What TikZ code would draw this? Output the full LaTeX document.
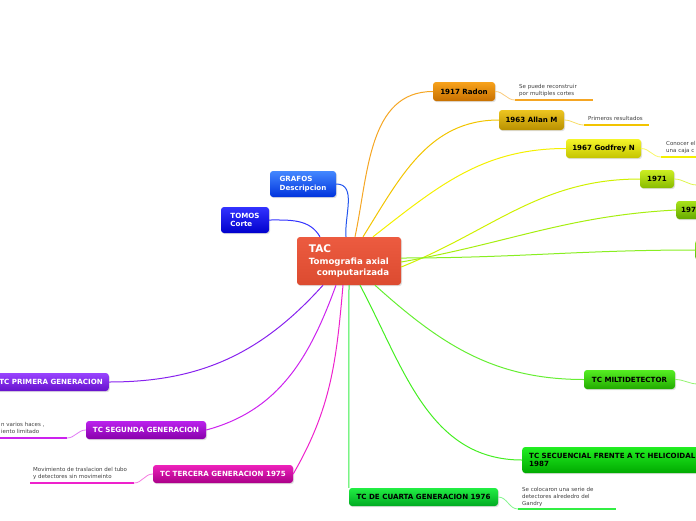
\documentclass[tikz,border=0pt]{standalone}
\usepackage{fontspec}
\setmainfont{DejaVu Sans}
\usetikzlibrary{shadows}
\definecolor{radL}{HTML}{F5A623}
\definecolor{allL}{HTML}{F2C400}
\definecolor{godL}{HTML}{F4F000}
\definecolor{s71L}{HTML}{D0F000}
\definecolor{s72L}{HTML}{A6EE10}
\definecolor{edgL}{HTML}{88EE22}
\definecolor{milL}{HTML}{66EE33}
\definecolor{secL}{HTML}{44EE22}
\definecolor{cuaL}{HTML}{33EE44}
\definecolor{terL}{HTML}{EE22CC}
\definecolor{segL}{HTML}{CC22EE}
\definecolor{priL}{HTML}{8822EE}
\definecolor{tomL}{HTML}{3333FF}
\definecolor{graL}{HTML}{2255EE}

\begin{document}
\begin{tikzpicture}[x=1pt, y=-1pt,
  box/.style={rounded corners=3pt, inner xsep=6pt, inner ysep=2pt, align=left,
    font=\fontsize{7.1}{8.6}\selectfont\bfseries,
    drop shadow={shadow xshift=1pt, shadow yshift=-1.2pt, opacity=0.25}},
  tint/.code 2 args={\definecolor{tintT}{HTML}{#1}\definecolor{tintB}{HTML}{#2}%
    \pgfkeysalso{box, top color=tintT, bottom color=tintB}},
  note/.style={font=\fontsize{5.5}{7}\selectfont, text=black!75, align=left, inner sep=1pt},
  limb/.style={line width=1pt},
  twig/.style={line width=0.8pt},
  uline/.style={line width=2.2pt},
]
\useasboundingbox (0,0) rectangle (696,520);
\clip (0,0) rectangle (696,520);

\node[tint={EC5B40}{DC4B30}, text=white, minimum width=104, minimum height=48, inner xsep=4pt,
  font=\fontsize{8.6}{11.5}\selectfont\bfseries] (tac) at (349,261)
  {{\fontsize{10.5}{11}\selectfont TAC}\\Tomografia axial\\\hspace*{8pt}computarizada};

\node[tint={4488FF}{0033DD}, text=white, minimum width=66, minimum height=26] (grafos) at (303,184) {GRAFOS\\Descripcion};
\node[tint={3333FF}{0000CC}, text=white, minimum width=48, minimum height=26] (tomos) at (245,220) {TOMOS\\Corte};

\node[tint={F7A21B}{C87000}, minimum width=62, minimum height=19] (radon) at (464,91.5) {1917 Radon};
\node[tint={EDC520}{B89000}, minimum width=65, minimum height=20] (allan) at (531.5,120) {1963 Allan M};
\node[tint={F5F52A}{C4C400}, minimum width=75, minimum height=19] (godfrey) at (603.5,148.5) {1967 Godfrey N};
\node[tint={CCEE22}{88BB00}, minimum width=34, minimum height=18] (s71) at (657,179) {1971};
\node[tint={A8E21A}{66AA00}, minimum height=18, inner xsep=5pt, anchor=west] (s72) at (676,210) {197};
\node[tint={88EE22}{55BB00}, minimum width=30, minimum height=20, anchor=west] (edge) at (695,250) {};
\node[tint={55EE22}{22AA00}, minimum width=91, minimum height=19] (milti) at (629.5,379.5) {TC MILTIDETECTOR};
\node[tint={22EE22}{00AA00}, minimum height=26, inner xsep=7pt, anchor=west] (secu) at (522,460)
  {TC SECUENCIAL FRENTE A TC HELICOIDAL\\1987};
\node[tint={22EE44}{00AA22}, minimum width=149, minimum height=18] (cuarta) at (423.5,497) {TC DE CUARTA GENERACION 1976};
\node[tint={EE22BB}{AA0088}, text=white, minimum width=140, minimum height=18] (tercera) at (223,474) {TC TERCERA GENERACION 1975};
\node[tint={BB22EE}{8800AA}, text=white, minimum width=120, minimum height=18] (segunda) at (146,430) {TC SEGUNDA GENERACION};
\node[tint={9944FF}{6611CC}, text=white, minimum height=18, anchor=east] (primera) at (109,382) {TC PRIMERA GENERACION};

\draw[limb, graL] (grafos.east) to[out=0, in=95] ([xshift=-3pt]tac.north);
\draw[limb, tomL] (tomos.east) to[out=0, in=120] ([xshift=-29pt]tac.north);
\draw[limb, radL] ([xshift=6pt]tac.north) to[out=78, in=180] (radon.west);
\draw[limb, allL] ([xshift=14pt]tac.north) to[out=58, in=180] (allan.west);
\draw[limb, godL] ([xshift=24pt]tac.north) to[out=38, in=180] (godfrey.west);
\draw[limb, s71L] ([yshift=-6pt]tac.east) to[out=22, in=180] (s71.west);
\draw[limb, s72L] ([yshift=-1pt]tac.east) to[out=10, in=183] (s72.west);
\draw[limb, edgL] ([yshift=3pt]tac.east) to[out=0, in=180] (edge.west);
\draw[limb, milL] ([xshift=26pt]tac.south) to[out=-42, in=180] (milti.west);
\draw[limb, secL] ([xshift=11pt]tac.south) to[out=-62, in=180] (secu.west);
\draw[limb, cuaL] (tac.south) -- (cuarta.north west);
\draw[limb, terL] ([xshift=-6pt]tac.south) to[out=-95, in=60] (tercera.east);
\draw[limb, segL] ([xshift=-13pt]tac.south) to[out=-110, in=15] (segunda.east);
\draw[limb, priL] ([xshift=-26pt]tac.south) to[out=-132, in=0] (primera.east);

\node[note, anchor=north west] (nradon) at (518,83) {Se puede reconstruir\\por multiples cortes};
\coordinate (ra) at (515,100);
\coordinate (rb) at (593,100);
\draw[uline, radL] (ra) -- (rb);
\draw[twig, radL!60] (radon.east) to[out=0, in=180] (ra);

\node[note, anchor=north west] (nallan) at (587,115) {Primeros resultados};
\coordinate (aa) at (584,125);
\coordinate (ab) at (649,125);
\draw[uline, allL] (aa) -- (ab);
\draw[twig, allL!60] (allan.east) to[out=0, in=180] (aa);

\node[note, anchor=north west] (ngod) at (665,140) {Conocer el\\una caja c};
\coordinate (ga) at (661,157);
\coordinate (gb) at (700,157);
\draw[uline, godL] (ga) -- (gb);
\draw[twig, godL!60] (godfrey.east) to[out=0, in=180] (ga);

\coordinate (sa) at (697,185);
\draw[twig, s71L!70] (s71.east) to[out=0, in=180] (sa);
\coordinate (ma) at (698,384);
\draw[twig, milL!70] (milti.east) to[out=0, in=180] (ma);

\node[note, anchor=north west] (nseg) at (0,421) {n varios haces ,\\iento limitado};
\coordinate (ea) at (67,438);
\coordinate (eb) at (-2,438);
\draw[uline, segL] (ea) -- (eb);
\draw[twig, segL!60] (segunda.west) to[out=180, in=0] (ea);

\node[note, anchor=north west] (nter) at (32,466) {Movimiento de traslacion del tubo\\y detectores sin movimeinto};
\coordinate (ta) at (134,483);
\coordinate (tb) at (30,483);
\draw[uline, terL] (ta) -- (tb);
\draw[twig, terL!60] (tercera.west) to[out=180, in=0] (ta);

\node[note, anchor=north west] (ncua) at (521,486) {Se colocaron una serie de\\detectores alrededro del\\Gandry};
\coordinate (ca) at (518,509);
\coordinate (cb) at (616,509);
\draw[uline, cuaL] (ca) -- (cb);
\draw[twig, cuaL!60] (cuarta.east) to[out=0, in=180] (ca);
\end{tikzpicture}
\end{document}
